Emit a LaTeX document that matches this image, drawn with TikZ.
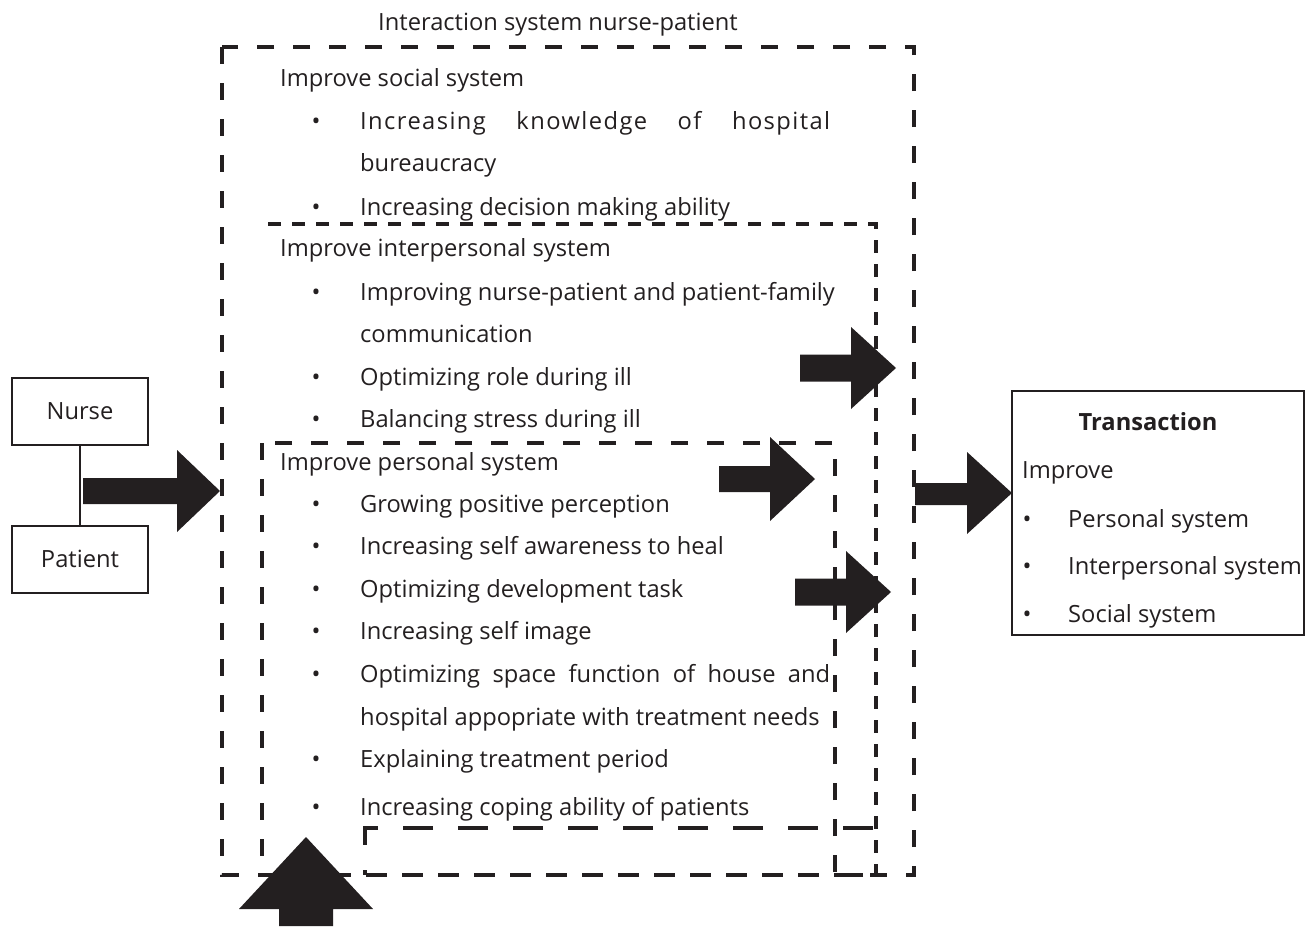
\documentclass[tikz,border=0pt]{standalone}
\usepackage{fontspec}
\setmainfont{Open Sans}
\newcommand{\fs}{\fontsize{23.7}{28}\selectfont}
\definecolor{ink}{RGB}{35,31,32}
\begin{document}
\begin{tikzpicture}[x=1pt,y=-1pt,
  txt/.style={anchor=base west, inner sep=0pt, font=\fs, text=ink},
  bul/.style={anchor=base, inner sep=0pt, font=\fs, text=ink},
  dsh/.style={draw=ink, line width=3.5pt, dash pattern=on 17pt off 19pt},
  dshb/.style={draw=ink, line width=3.5pt, dash pattern=on 13pt off 11pt},
  dshl/.style={draw=ink, line width=3.5pt, dash pattern=on 30pt off 25pt},
  smallbox/.style={draw=ink, line width=2pt, minimum width=136pt, minimum height=67pt, inner sep=0pt, font=\fs, text=ink},
  blk/.style={fill=ink, draw=none}]
\useasboundingbox (0,0) rectangle (1306,926);

% dashed frames
\draw[dsh] (222,47) rectangle (914,875);
\draw[dshb] (268,224) -- (876,224) -- (876,875) -- (835,875);
\draw[dsh] (262,443) rectangle (835,875);
\draw[dshl] (873,828) -- (365,828) -- (365,875);

% title
\node[bul] (title) at (558,30) {Interaction system nurse-patient};

% social system
\node[txt] (soc) at (280,86) {Improve social system};
\node[bul] (sb1) at (316,129) {•};
\node[txt] (s1) at (360,129) {\makebox[470pt][s]{\addfontfeature{LetterSpace=6}Increasing\ knowledge\ of\ hospital}};
\node[txt] (s1b) at (360,171) {bureaucracy};
\node[bul] (sb2) at (316,215) {•};
\node[txt] (s2) at (360,215) {Increasing decision making ability};

% interpersonal system
\node[txt] (inter) at (280,256) {Improve interpersonal system};
\node[bul] (ib1) at (316,300) {•};
\node[txt] (i1) at (360,300) {Improving nurse-patient and patient-family};
\node[txt] (i1b) at (360,342) {communication};
\node[bul] (ib2) at (316,385) {•};
\node[txt] (i2) at (360,385) {Optimizing role during ill};
\node[bul] (ib3) at (316,427) {•};
\node[txt] (i3) at (360,427) {Balancing stress during ill};

% personal system
\node[txt] (pers) at (280,470) {Improve personal system};
\node[bul] (pb1) at (316,512) {•};
\node[txt] (p1) at (360,512) {Growing positive perception};
\node[bul] (pb2) at (316,554) {•};
\node[txt] (p2) at (360,554) {Increasing self awareness to heal};
\node[bul] (pb3) at (316,597) {•};
\node[txt] (p3) at (360,597) {Optimizing development task};
\node[bul] (pb4) at (316,639) {•};
\node[txt] (p4) at (360,639) {Increasing self image};
\node[bul] (pb5) at (316,682) {•};
\node[txt] (p5) at (360,682) {\makebox[470pt][s]{Optimizing space function of house and}};
\node[txt] (p5b) at (360,725) {hospital appopriate with treatment needs};
\node[bul] (pb6) at (316,767) {•};
\node[txt] (p6) at (360,767) {Explaining treatment period};
\node[bul] (pb7) at (316,815) {•};
\node[txt] (p7) at (360,815) {Increasing coping ability of patients};

% nurse / patient
\node[smallbox] (nurse) at (80,411.5) {Nurse};
\node[smallbox] (patient) at (80,559) {Patient};
\draw[ink, line width=2pt] (nurse) -- (patient);

% transaction
\node[draw=ink, line width=2pt, minimum width=292pt, minimum height=244pt, inner sep=0pt] (trans) at (1158,513) {};
\node[anchor=base, inner sep=0pt, font=\fs\bfseries, text=ink] (ttitle) at (1148,430) {Transaction};
\node[txt] (timp) at (1022,478) {Improve};
\node[bul] (tb1) at (1027,527) {•};
\node[txt] (t1) at (1068,527) {Personal system};
\node[bul] (tb2) at (1027,574) {•};
\node[txt] (t2) at (1068,574) {Interpersonal system};
\node[bul] (tb3) at (1027,622) {•};
\node[txt] (t3) at (1068,622) {Social system};

% block arrows
\fill[blk] (83,478) -- (177,478) -- (177,450) -- (220,491) -- (177,532) -- (177,504) -- (83,504) -- cycle;
\fill[blk] (800,354.5) -- (851,354.5) -- (851,327) -- (896,368) -- (851,409) -- (851,381.5) -- (800,381.5) -- cycle;
\fill[blk] (719,466) -- (770,466) -- (770,437) -- (815,479) -- (770,521) -- (770,492) -- (719,492) -- cycle;
\fill[blk] (795,578.5) -- (846,578.5) -- (846,551) -- (891,592) -- (846,633) -- (846,605.5) -- (795,605.5) -- cycle;
\fill[blk] (915,483) -- (967,483) -- (967,452) -- (1012,493) -- (967,534) -- (967,505) -- (915,505) -- cycle;
\fill[blk] (279,926) -- (279,909) -- (239,909) -- (306,837) -- (373,909) -- (333,909) -- (333,926) -- cycle;
\end{tikzpicture}
\end{document}
